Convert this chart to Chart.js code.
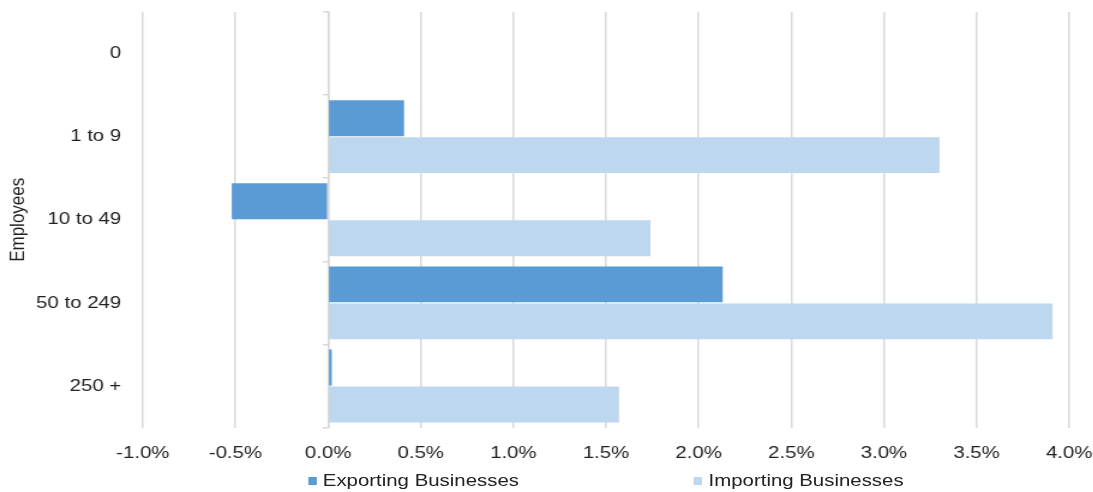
<!DOCTYPE html>
<html>
<head>
<meta charset="utf-8">
<title>Employees</title>
<style>
  html, body { margin: 0; padding: 0; background: #fff; overflow: hidden; }
  /* chart is laid out narrow, then widened to the page */
  #wrap { position: relative; width: 911px; height: 492px; transform: scaleX(1.2); transform-origin: 0 0; }
  #legend { position: absolute; left: 119px; width: 772px; top: 471px; display: flex; justify-content: center; gap: 146px;
            font: 17px "Liberation Sans", Arial, sans-serif; line-height: 20px; color: #222; }
  #legend .item { display: flex; align-items: center; }
  #legend .box { display: inline-block; width: 7px; height: 8px; margin-right: 5px; }
</style>
</head>
<body>
<div id="wrap">
  <canvas id="chart"></canvas>
  <div id="legend"></div>
</div>

<script src="https://cdn.jsdelivr.net/npm/chart.js"></script>
<script>
  const categories = ['0', '1 to 9', '10 to 49', '50 to 249', '250 +'];
  const exporting = [null, 0.41, -0.52, 2.13, 0.02];
  const importing = [null, 3.30, 1.74, 3.91, 1.57];
  const seriesNames = ['Exporting Businesses', 'Importing Businesses'];
  const seriesColors = ['#5b9bd5', '#bdd7ee'];
  const xMin = -1, xMax = 4, xStep = 0.5;

  const gridColor = '#d9d9d9';
  Chart.defaults.font.family = '"Liberation Sans", Arial, sans-serif';
  Chart.defaults.font.size = 17;
  Chart.defaults.color = '#222';

  // no extra room reserved for half labels at the plot edges
  const noEdgePadding = s => {
    s.paddingTop = 0; s.paddingBottom = 0;
    s.paddingLeft = 0; s.paddingRight = 0;
  };

  // legend sits under the plot, spread wide like the office chart
  const legend = document.getElementById('legend');
  seriesNames.forEach((name, i) => {
    const item = document.createElement('div');
    item.className = 'item';
    item.innerHTML = `<span class="box" style="background:${seriesColors[i]}"></span>${name}`;
    legend.appendChild(item);
  });

  new Chart(document.getElementById('chart'), {
    type: 'bar',
    data: {
      labels: categories,
      datasets: [
        { label: seriesNames[0], data: exporting, backgroundColor: seriesColors[0] },
        { label: seriesNames[1], data: importing, backgroundColor: seriesColors[1] }
      ]
    },
    options: {
      indexAxis: 'y',
      responsive: true,
      maintainAspectRatio: false,
      animation: false,
      categoryPercentage: 0.89,
      barPercentage: 0.97,
      layout: { padding: { top: 12, right: 20, bottom: 12, left: 0 } },
      plugins: { legend: { display: false }, tooltip: { enabled: false } },
      scales: {
        x: {
          min: xMin,
          max: xMax,
          ticks: { stepSize: xStep, padding: 16, callback: v => v.toFixed(1) + '%' },
          grid: { color: gridColor, lineWidth: 1.5, drawTicks: false },
          border: { display: false },
          afterFit: noEdgePadding
        },
        y: {
          ticks: { padding: 18 },
          grid: { display: false, drawTicks: false },
          border: { display: false },
          title: { display: true, text: 'Employees', padding: { top: 5, bottom: 0 } },
          afterFit: s => { s.width = 119; noEdgePadding(s); }
        },
        // axis line at zero with the little category tick marks
        y0: {
          type: 'category',
          position: { x: 0 },
          ticks: { display: false },
          grid: { drawOnChartArea: false, offset: true, tickLength: 4, color: gridColor, lineWidth: 1.5 },
          border: { color: gridColor, width: 1.5 },
          afterFit: noEdgePadding
        }
      }
    }
  });
</script>
</body>
</html>
